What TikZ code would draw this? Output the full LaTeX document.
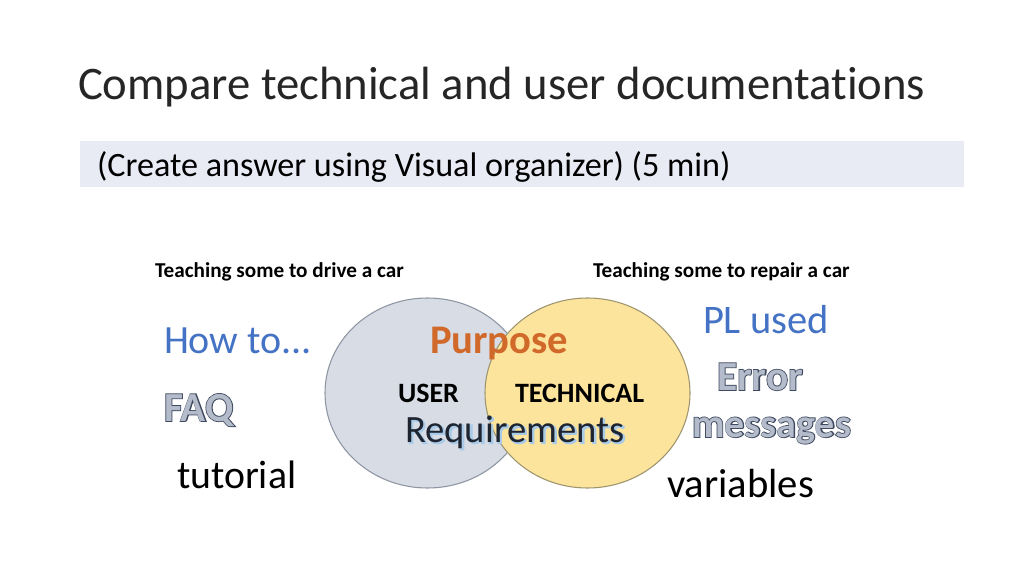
\documentclass[tikz,border=0pt]{standalone}
\usepackage{fontspec}
\setmainfont{Carlito}[Ligatures={NoCommon,TeX}]
\newfontfamily\hatchfont{Carlito Bold}[Ligatures=NoCommon]
\newfontfamily\hatchout{Carlito Bold}[FakeBold=4,Ligatures=NoCommon]
\newfontfamily\glowfont{Carlito}[FakeBold=3,Ligatures=NoCommon]
\usetikzlibrary{shapes.geometric}
\definecolor{bandgray}{HTML}{E9EBF4}
\definecolor{userfill}{HTML}{D7DCE5}
\definecolor{userline}{HTML}{8E96A3}
\definecolor{techfill}{HTML}{FDE49C}
\definecolor{techline}{HTML}{9E9570}
\definecolor{bluetxt}{HTML}{4472C4}
\definecolor{orangetxt}{HTML}{D0692A}
\definecolor{hatchdark}{HTML}{3F4A60}
\definecolor{hatchlight}{HTML}{B4BCCB}
\definecolor{glowblue}{HTML}{A9CBE8}
\definecolor{reqdark}{HTML}{1E2430}
\tikzset{
  txt/.style={anchor=base west, inner sep=0pt, outer sep=0pt},
  circ/.style={ellipse, draw, line width=0.8pt, inner sep=0pt,
    minimum width=153.75pt, minimum height=142.5pt},
}
\newcommand{\hatchtext}[4]{% name, position, size, text
  \node[txt, text=hatchdark, font={\hatchout\fontsize{#3}{#3}\selectfont}] at #2 {#4};
  \node[txt, text=hatchlight, font={\hatchfont\fontsize{#3}{#3}\selectfont}] (#1) at #2 {#4};
}
\begin{document}
\begin{tikzpicture}[x=0.75pt,y=-0.75pt]
\useasboundingbox[fill=white] (0,0) rectangle (1024,574);
% title
\node[txt, font={\fontsize{35pt}{38pt}\selectfont}, text=black!85] (title) at (78,100) {Compare technical and user documentations};
% band
\fill[bandgray] (80,141) rectangle (964,187);
\node[txt, font={\fontsize{25.6pt}{28pt}\selectfont}] (sub) at (97,176) {(Create answer using Visual organizer) (5 min)};
% headers
\node[txt, font={\bfseries\fontsize{15.9pt}{17pt}\selectfont}] (drive) at (155,277) {Teaching some to drive a car};
\node[txt, font={\bfseries\fontsize{15.9pt}{17pt}\selectfont}] (repair) at (593,277) {Teaching some to repair a car};
% circles
\node[circ, fill=userfill, draw=userline] (user) at (427.5,393) {};
\node[circ, fill=techfill, draw=techline] (tech) at (587.5,393) {};
% circle texts
\node[txt, text=orangetxt, font={\bfseries\fontsize{30.5pt}{32pt}\selectfont}] (purpose) at (430,353) {Purpose};
\node[txt, font={\bfseries\fontsize{21pt}{22pt}\selectfont}] (usertxt) at (398,402) {USER};
\node[txt, font={\bfseries\fontsize{21pt}{22pt}\selectfont}] (techtxt) at (515,402) {TECHNICAL};
\node[txt, text=glowblue, font={\glowfont\fontsize{29pt}{32pt}\selectfont}] (reqglow) at (406.5,443.5) {Requirements};
\node[txt, text=reqdark, font={\fontsize{29pt}{32pt}\selectfont}] (req) at (405,442) {Requirements};
% left list
\node[txt, text=bluetxt, font={\fontsize{30pt}{32pt}\selectfont}] (howto) at (164,353) {How to...};
\hatchtext{faq}{(164,421)}{31pt}{FAQ}
\node[txt, font={\fontsize{29.8pt}{32pt}\selectfont}] (tutorial) at (177,488) {tutorial};
% right list
\node[txt, text=bluetxt, font={\fontsize{30.4pt}{32pt}\selectfont}] (plused) at (703,333) {PL used};
\hatchtext{error}{(717,390)}{31pt}{Error}
\hatchtext{messages}{(692,437)}{30pt}{messages}
\node[txt, font={\fontsize{30.5pt}{32pt}\selectfont}] (variables) at (667,497) {variables};
\end{tikzpicture}
\end{document}
